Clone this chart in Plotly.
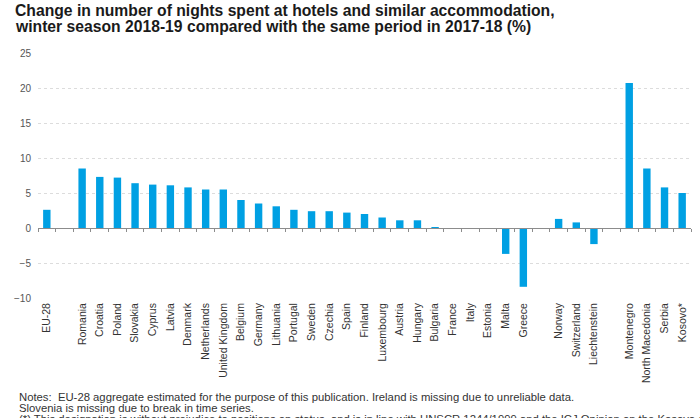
import plotly.graph_objects as go

# categories (blank slots separate the country groups)
countries = [
    "EU-28", " ",
    "Romania", "Croatia", "Poland", "Slovakia", "Cyprus", "Latvia", "Denmark",
    "Netherlands", "United Kingdom", "Belgium", "Germany", "Lithuania",
    "Portugal", "Sweden", "Czechia", "Spain", "Finland", "Luxembourg",
    "Austria", "Hungary", "Bulgaria", "France", "Italy", "Estonia", "Malta",
    "Greece", "  ",
    "Norway", "Switzerland", "Liechtenstein", "   ",
    "Montenegro", "North Macedonia", "Serbia", "Kosovo*",
]

# change in nights spent (%)
change = [
    2.6, None,
    8.5, 7.3, 7.2, 6.4, 6.2, 6.1, 5.8,
    5.5, 5.5, 4.0, 3.5, 3.1,
    2.6, 2.4, 2.4, 2.2, 2.0, 1.5,
    1.1, 1.1, 0.1, 0.0, -0.1, -0.1, -3.7,
    -8.4, None,
    1.3, 0.8, -2.3, None,
    20.7, 8.5, 5.8, 5.0,
]

y_ticks = [-10, -5, 0, 5, 10, 15, 20, 25]

title_lines = [
    "Change in number of nights spent at hotels and similar accommodation,",
    "winter season 2018-19 compared with the same period in 2017-18 (%)",
]
notes = [
    "Notes:  EU-28 aggregate estimated for the purpose of this publication. Ireland is missing due to unreliable data.",
    "Slovenia is missing due to break in time series.",
    "(*) This designation is without prejudice to positions on status, and is in line with UNSCR 1244/1999 and the ICJ Opinion on the Kosovo declaration of independence.",
]

FONT = "Liberation Sans, Arial, sans-serif"
y_min, y_max = -10, 25

fig = go.Figure()
fig.add_trace(go.Bar(
    x=countries, y=change,
    marker=dict(color="#00a0e3", line=dict(width=0)),
    hoverinfo="x+y",
))
# invisible copy on the second x axis, which draws the zero line with ticks
fig.add_trace(go.Bar(
    x=countries, y=[None] * len(countries),
    xaxis="x2", showlegend=False, hoverinfo="skip",
))

fig.update_layout(
    width=700, height=418,
    margin=dict(l=38, r=9, t=53, b=120),
    paper_bgcolor="white", plot_bgcolor="white",
    showlegend=False,
    bargap=0.58,
    font=dict(family=FONT, color="#333333"),
    xaxis=dict(
        type="category", categoryorder="array", categoryarray=countries,
        showgrid=False, zeroline=False, showline=False, ticks="",
        tickangle=-90, tickfont=dict(size=10.5, color="#333333"),
        ticklabelstandoff=2,
    ),
    xaxis2=dict(
        type="category", matches="x", overlaying="x",
        anchor="free", position=(0 - y_min) / (y_max - y_min),
        showline=True, linecolor="#8c8c8c", linewidth=1,
        ticks="outside", tickson="boundaries", ticklen=3, tickcolor="#8c8c8c",
        showticklabels=False, showgrid=False, zeroline=False,
    ),
    yaxis=dict(
        range=[y_min, y_max], tickvals=y_ticks,
        showgrid=True, gridcolor="#dcdcdc", griddash="dot", gridwidth=1,
        zeroline=False, showline=False, ticks="",
        tickfont=dict(size=10, color="#555555"),
        ticklabelstandoff=6,
    ),
)

plot_h = 418 - 53 - 120
title_y = [10.7, 26.7]
for text, ypx in zip(title_lines, title_y):
    fig.add_annotation(
        text="<b>%s</b>" % text, xref="paper", yref="paper",
        x=(13 - 38) / 653, y=1 + (53 - ypx) / plot_h,
        xanchor="left", yanchor="middle", showarrow=False,
        font=dict(size=15.7, color="#1a1a1a", family=FONT),
    )

notes_y = [397, 408, 419]
for text, ypx in zip(notes, notes_y):
    fig.add_annotation(
        text=text, xref="paper", yref="paper",
        x=(17 - 38) / 653, y=-(ypx - (418 - 120)) / plot_h,
        xanchor="left", yanchor="middle", showarrow=False,
        font=dict(size=11.3, color="#333333", family=FONT),
    )

# the page's default body margin would push the chart off the window
fig.write_html(
    "out.html",
    config={"displayModeBar": False},
    post_script="document.body.style.margin='0';",
)
